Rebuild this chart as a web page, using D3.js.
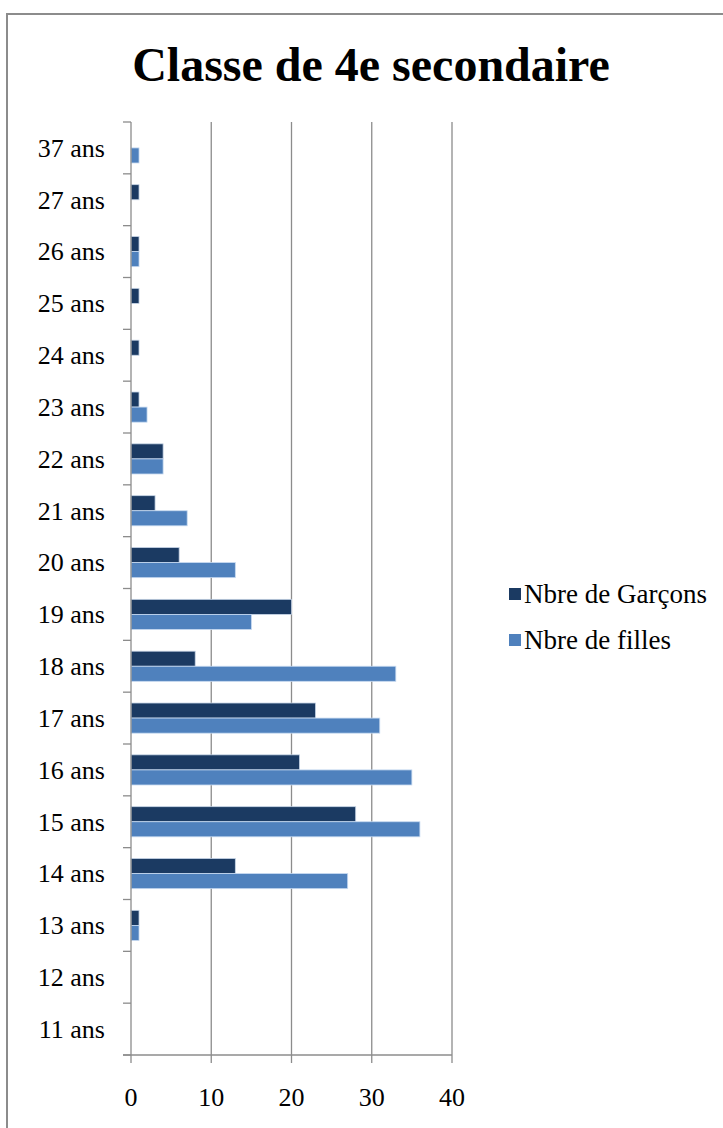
<!DOCTYPE html>
<html>
<head>
<meta charset="utf-8">
<script src="https://cdn.jsdelivr.net/npm/d3@7"></script>
<style>
  html, body { margin: 0; padding: 0; background: #fff; }
  svg { display: block; }
</style>
</head>
<body>
<script>
// ---- Data ----
const categories = ["11 ans","12 ans","13 ans","14 ans","15 ans","16 ans","17 ans","18 ans","19 ans","20 ans","21 ans","22 ans","23 ans","24 ans","25 ans","26 ans","27 ans","37 ans"];
const garcons = [0, 0, 1, 13, 28, 21, 23, 8, 20, 6, 3, 4, 1, 1, 1, 1, 1, 0];
const filles  = [0, 0, 1, 27, 36, 35, 31, 33, 15, 13, 7, 4, 2, 0, 0, 1, 0, 1];
const seriesNames = ["Nbre de Garçons", "Nbre de filles"];
const xTicks = [0, 10, 20, 30, 40];
const title = "Classe de 4e secondaire";

// ---- Layout ----
const W = 723, H = 1128;
const FONT = "'Liberation Serif', 'Tinos', 'Times New Roman', 'DejaVu Serif', serif";
const plot = { left: 131, right: 452, top: 122, bottom: 1055 };
const colors = ["#1B3A62", "#4F81BD"];
const gridColor = "#8C8C8C";

const svg = d3.select("body").append("svg").attr("width", W).attr("height", H)
  .attr("font-family", FONT).style("font-family", FONT);

// chart border
svg.append("rect").attr("x", 7).attr("y", 14).attr("width", 900).attr("height", 1300)
  .attr("fill", "#fff").attr("stroke", "#8C8C8C").attr("stroke-width", 2);

// title
svg.append("text").attr("x", 371).attr("y", 81).attr("text-anchor", "middle")
  .attr("font-size", 48).attr("font-weight", "bold").style("font-family", FONT).text(title);

const x = d3.scaleLinear().domain([0, 40]).range([plot.left, plot.right]);
const y = d3.scaleBand().domain(categories.slice().reverse()).range([plot.top, plot.bottom]).paddingInner(0).paddingOuter(0);
const sub = d3.scaleBand().domain([0, 1]).range([0, y.bandwidth()]).paddingInner(0).paddingOuter(0.72);

// gridlines
svg.append("g").selectAll("line").data(xTicks.filter(d => d > 0)).join("line")
  .attr("x1", d => x(d)).attr("x2", d => x(d))
  .attr("y1", plot.top).attr("y2", plot.bottom)
  .attr("stroke", gridColor).attr("stroke-width", 1.3);

// bars
const rows = categories.map((c, i) => ({ cat: c, vals: [garcons[i], filles[i]] }));
const g = svg.append("g");
rows.forEach(r => {
  r.vals.forEach((v, s) => {
    if (v <= 0) return;
    g.append("rect")
      .attr("x", x(0))
      .attr("y", y(r.cat) + sub(s))
      .attr("width", x(v) - x(0))
      .attr("height", sub.bandwidth())
      .attr("fill", colors[s])
      .attr("stroke", s === 0 ? "#c6d4e6" : "#c6d9f0")
      .attr("stroke-width", 0.8);
  });
});

// y axis
const yAxis = svg.append("g").attr("transform", `translate(${plot.left},0)`);
yAxis.append("line").attr("x1", 0).attr("x2", 0).attr("y1", plot.top).attr("y2", plot.bottom)
  .attr("stroke", gridColor).attr("stroke-width", 1.3);
const boundaries = categories.map((c) => y(c)).concat([plot.bottom]);
yAxis.selectAll("line.tick").data(boundaries).join("line").attr("class", "tick")
  .attr("x1", -8).attr("x2", 0).attr("y1", d => d).attr("y2", d => d)
  .attr("stroke", gridColor).attr("stroke-width", 1.3);
yAxis.selectAll("text").data(categories).join("text")
  .attr("x", -26).attr("y", d => y(d) + y.bandwidth() / 2)
  .attr("dy", "0.34em").attr("text-anchor", "end").attr("font-size", 26)
  .style("font-family", FONT)
  .text(d => d);

// x axis
const xAxis = svg.append("g").attr("transform", `translate(0,${plot.bottom})`);
xAxis.append("line").attr("x1", plot.left - 8).attr("x2", plot.right).attr("y1", 0).attr("y2", 0)
  .attr("stroke", gridColor).attr("stroke-width", 1.3);
xAxis.selectAll("line.tick").data(xTicks).join("line").attr("class", "tick")
  .attr("x1", d => x(d)).attr("x2", d => x(d)).attr("y1", 0).attr("y2", 8)
  .attr("stroke", gridColor).attr("stroke-width", 1.3);
xAxis.selectAll("text").data(xTicks).join("text")
  .attr("x", d => x(d)).attr("y", 51).attr("text-anchor", "middle").attr("font-size", 26)
  .style("font-family", FONT)
  .text(d => d);

// legend
const legend = svg.append("g").attr("transform", "translate(509,594)");
seriesNames.forEach((name, i) => {
  const ly = i * 46;
  legend.append("rect").attr("x", 0).attr("y", ly - 6).attr("width", 12).attr("height", 12)
    .attr("fill", colors[i]);
  legend.append("text").attr("x", 15).attr("y", ly).attr("dy", "0.34em")
    .attr("font-size", 27).style("font-family", FONT).text(name);
});
</script>
</body>
</html>
